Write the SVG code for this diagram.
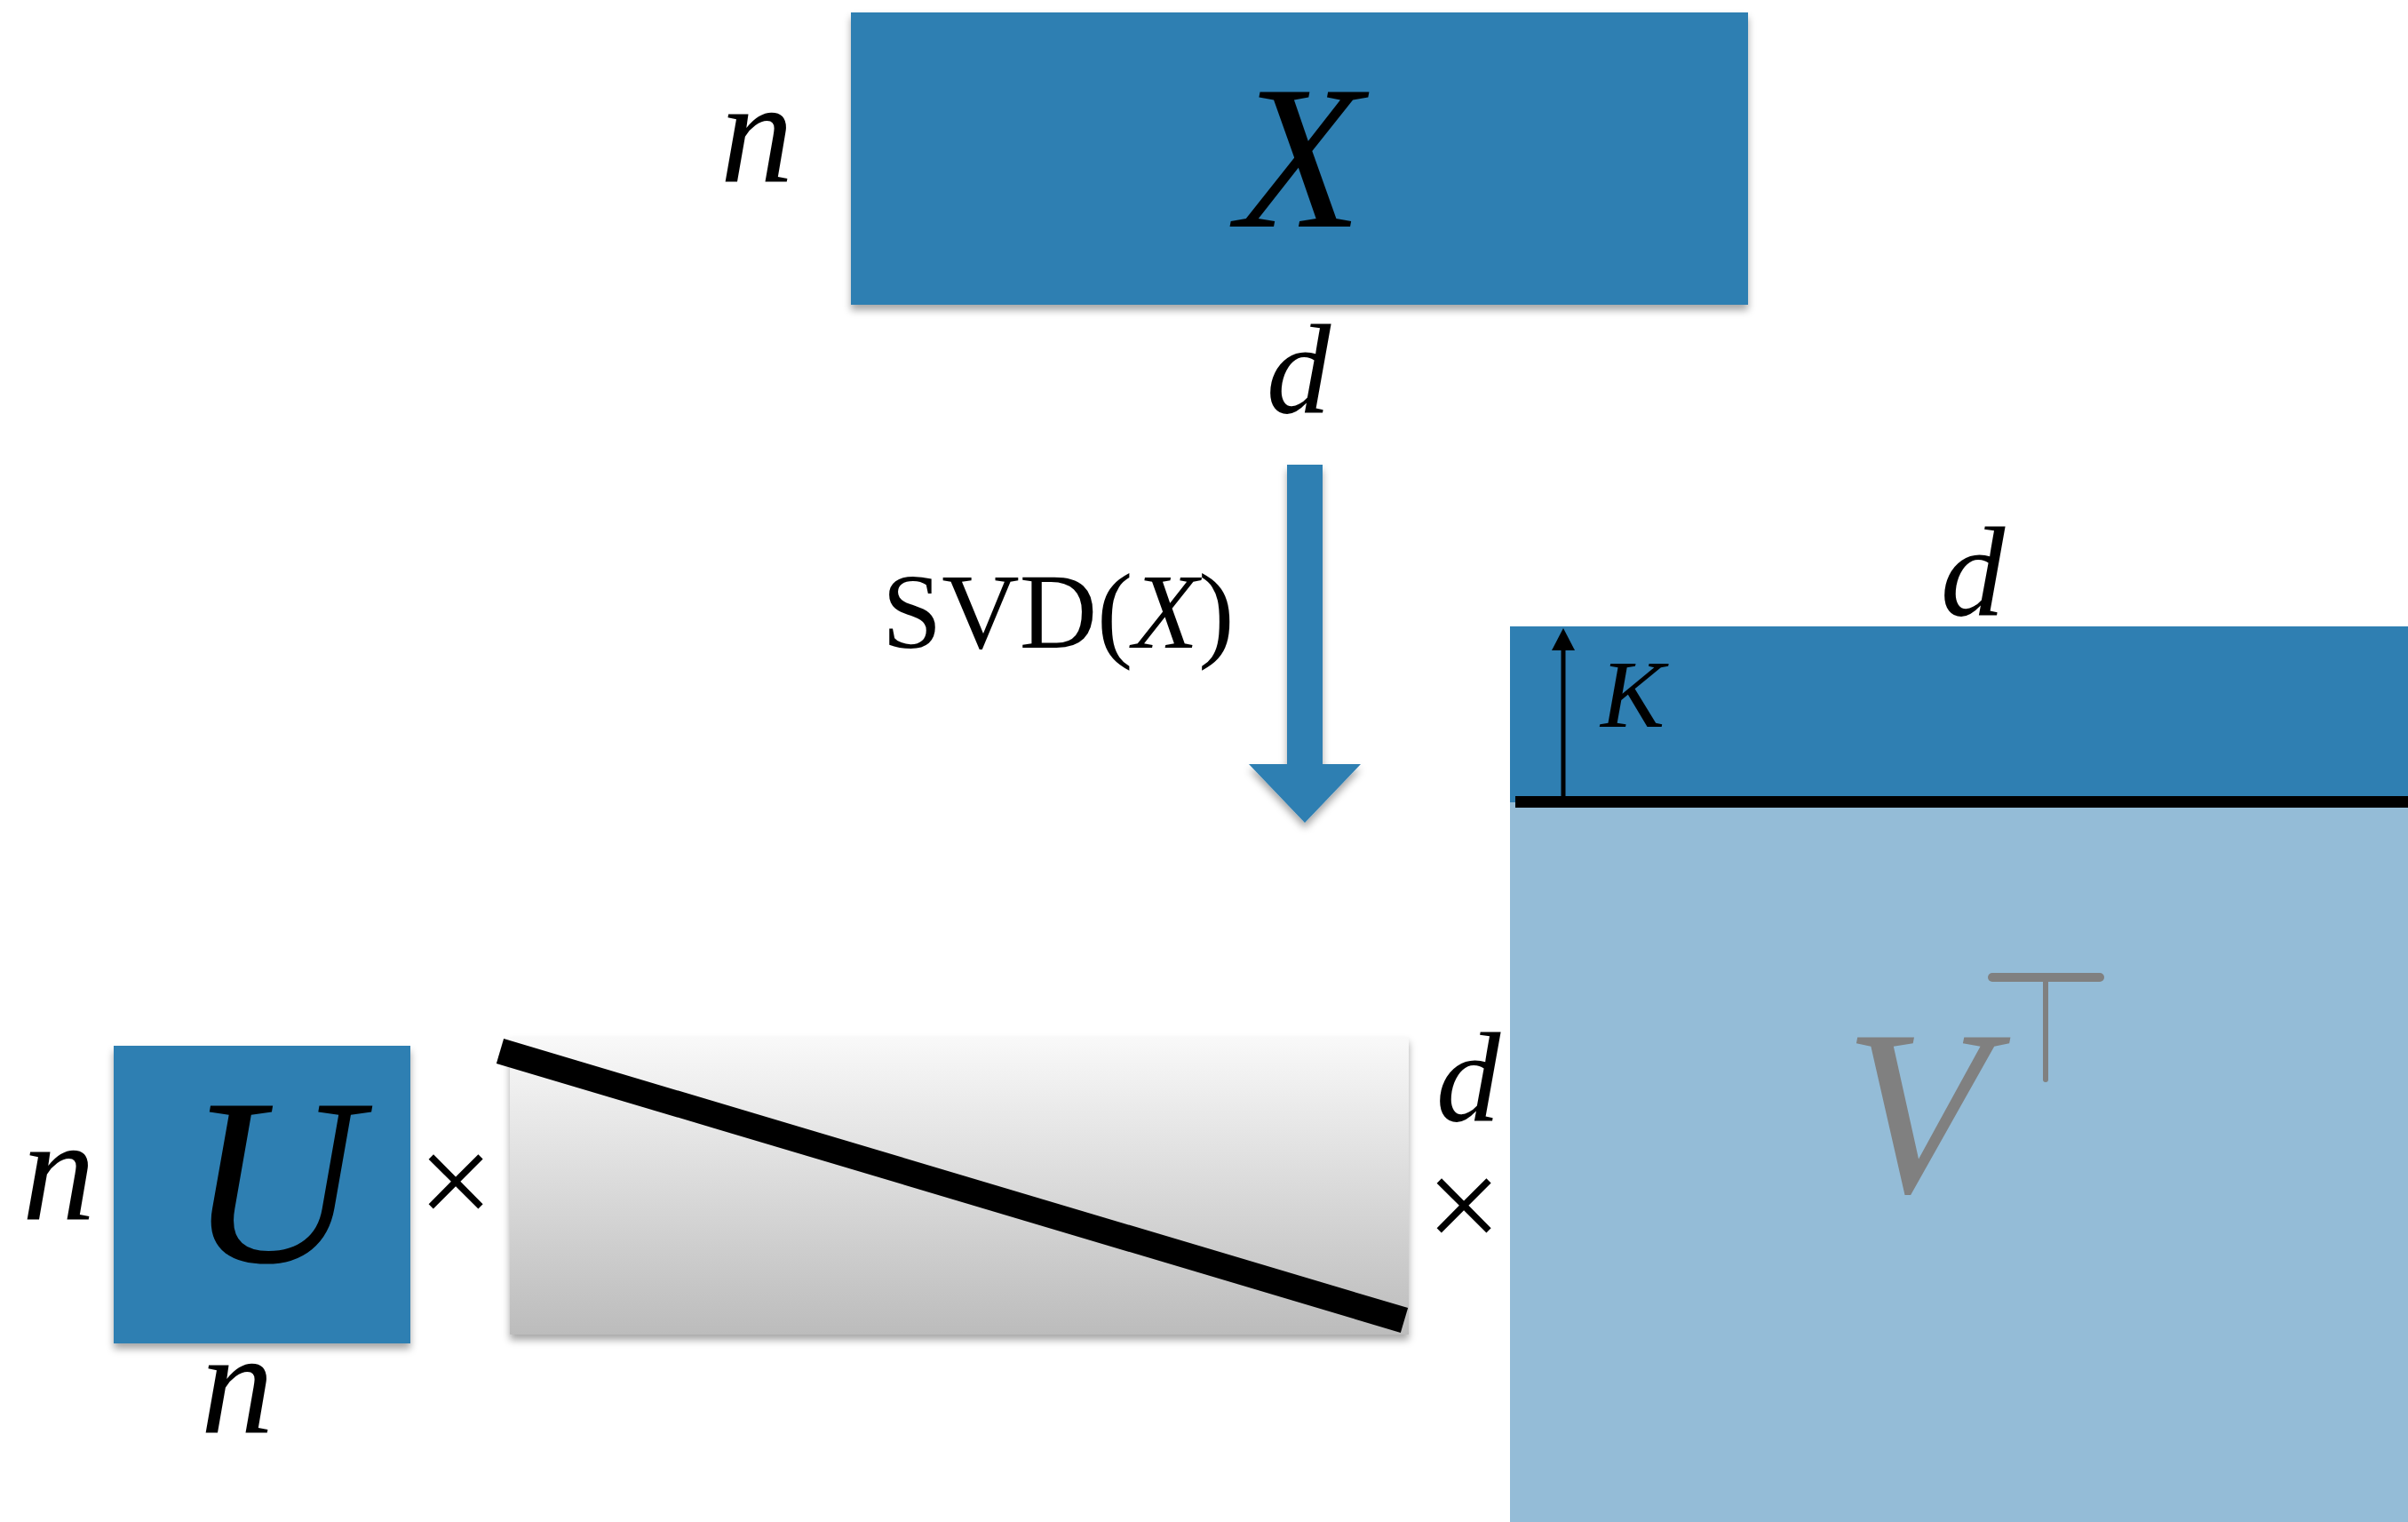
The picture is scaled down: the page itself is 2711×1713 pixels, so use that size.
<svg xmlns="http://www.w3.org/2000/svg" width="2711" height="1713" viewBox="0 0 2711 1713">
  <style>
    .blue { fill: #2f7fb2; }
    .light { fill: #94bcd7; }
    .mi { font-family: "Liberation Serif", "DejaVu Serif", serif; font-style: italic; fill: #000; }
    .rm { font-family: "Liberation Serif", "DejaVu Serif", serif; fill: #000; }
  </style>
  <defs>
    <filter id="shadow" x="-10%" y="-10%" width="120%" height="130%">
      <feDropShadow dx="0" dy="6" stdDeviation="4" flood-color="#000" flood-opacity="0.35"/>
    </filter>
    <linearGradient id="grad" x1="0" y1="0" x2="0" y2="1">
      <stop offset="0" stop-color="#f9f9f9"/>
      <stop offset="1" stop-color="#bcbcbc"/>
    </linearGradient>
  </defs>
  <rect width="2711" height="1713" fill="#fff"/>

  <g id="node-X">
    <rect class="blue" x="958" y="14" width="1010" height="329" filter="url(#shadow)"/>
    <text class="mi" x="1463" y="255" font-size="232" text-anchor="middle">X</text>
    <text class="mi" x="852" y="205" font-size="165" text-anchor="middle">n</text>
    <text class="mi" x="1462" y="465" font-size="145" text-anchor="middle">d</text>
  </g>

  <g id="node-VT">
    <rect class="light" x="1700" y="705" width="1011" height="1008"/>
    <rect class="blue" x="1700" y="705" width="1011" height="198"/>
    <rect x="1706" y="896" width="1005" height="13" fill="#000"/>
    <line x1="1760" y1="896" x2="1760" y2="728" stroke="#000" stroke-width="5"/>
    <path d="M1760,707 L1773,732 L1747,732 Z" fill="#000"/>
    <text class="mi" x="1802" y="818" font-size="108">K</text>
    <text class="mi" x="2221" y="693" font-size="145" text-anchor="middle">d</text>
    <text class="mi" x="2157" y="1341" font-size="265" text-anchor="middle" style="fill:#808080">V</text>
    <g stroke="#808080" stroke-linecap="round">
      <line x1="2243" y1="1100" x2="2364" y2="1100" stroke-width="10"/>
      <line x1="2303" y1="1100" x2="2303" y2="1215" stroke-width="6"/>
    </g>
  </g>

  <g id="node-U">
    <rect class="blue" x="128" y="1177" width="334" height="335" filter="url(#shadow)"/>
    <text class="mi" x="308" y="1420" font-size="268" text-anchor="middle">U</text>
    <text class="mi" x="66" y="1373" font-size="165" text-anchor="middle">n</text>
    <text class="mi" x="267" y="1613" font-size="165" text-anchor="middle">n</text>
  </g>

  <g id="node-Sigma">
    <rect x="574" y="1167" width="1012" height="335" fill="url(#grad)" filter="url(#shadow)"/>
    <line x1="563" y1="1183" x2="1581" y2="1486" stroke="#000" stroke-width="29"/>
    <text class="mi" x="1653" y="1262" font-size="145" text-anchor="middle">d</text>
  </g>

  <g id="connectors">
    <path class="blue" d="M1449,523 L1489,523 L1489,860 L1532,860 L1469,926 L1406,860 L1449,860 Z" filter="url(#shadow)"/>
    <text class="rm" x="993" y="729" font-size="121">SVD(<tspan font-style="italic">X</tspan>)</text>
    <text class="rm" x="513" y="1380" font-size="150" text-anchor="middle">×</text>
    <text class="rm" x="1648" y="1407" font-size="150" text-anchor="middle">×</text>
  </g>
</svg>
